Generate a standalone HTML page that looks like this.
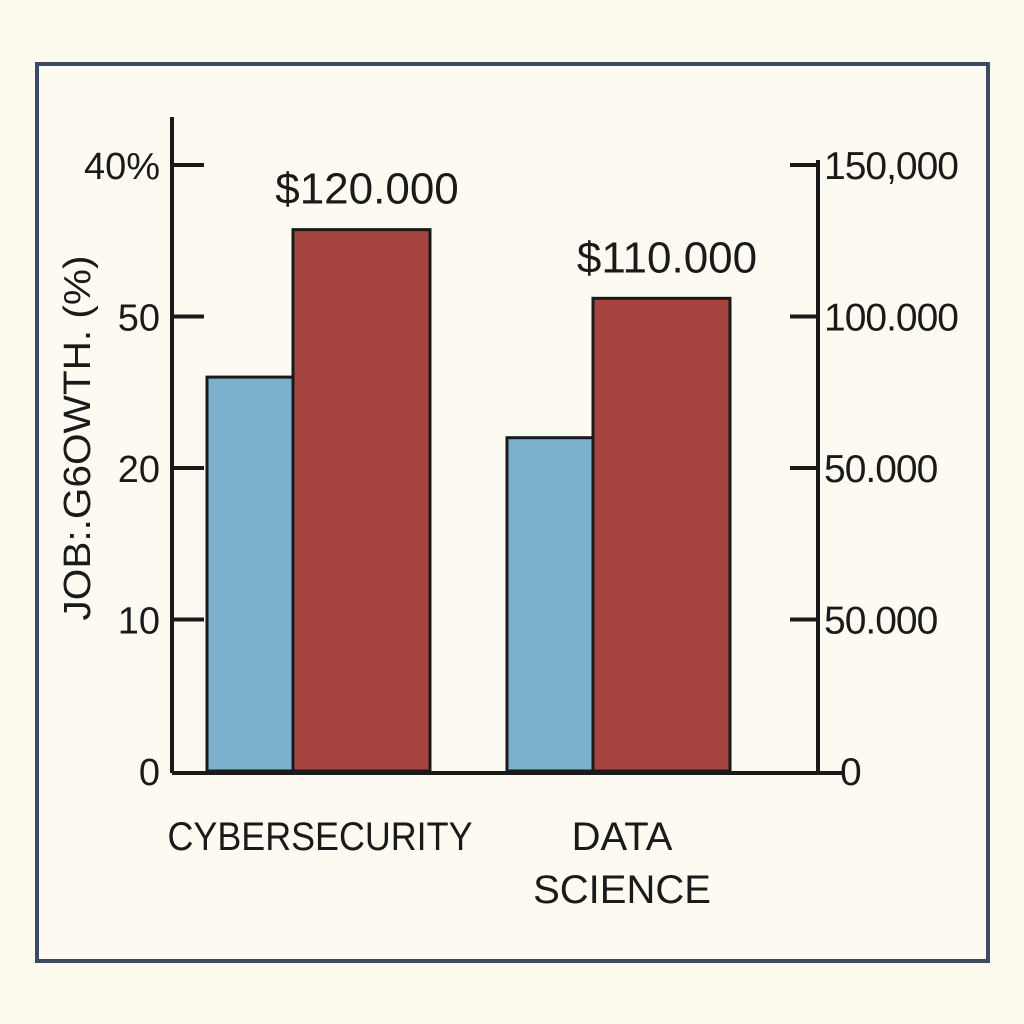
<!DOCTYPE html>
<html><head><meta charset="utf-8"><style>
html,body{margin:0;padding:0;background:#fcf9ee;}
svg{display:block;font-family:"Liberation Sans","DejaVu Sans",sans-serif;}
</style></head><body>
<svg id="chart" width="1024" height="1024" viewBox="0 0 1024 1024">
<rect x="37" y="64" width="951" height="897" fill="#fdfbf1" stroke="#3c4a63" stroke-width="4"/>
<g id="marks"></g>
</svg>
<script>
const categories = ["CYBERSECURITY", "DATA SCIENCE"];
const growth = [26, 22];
const salary = [134000, 117000];
const salaryLabels = ["$120.000", "$110.000"];
const leftTickLabels = ["0", "10", "20", "50", "40%"];
const rightTickLabels = ["0", "50.000", "50.000", "100.000", "150,000"];

const NS = "http://www.w3.org/2000/svg";
const g = document.getElementById("marks");
const y0 = 771, yTop = 165;
const yL = v => y0 - v / 40 * (y0 - yTop);
const yR = v => y0 - v / 150000 * (y0 - yTop);
const tickY = i => y0 - i * (y0 - yTop) / 4;
function mk(tag, attrs, text) {
  const e = document.createElementNS(NS, tag);
  for (const k in attrs) e.setAttribute(k, attrs[k]);
  if (text !== undefined) e.textContent = text;
  g.appendChild(e);
  return e;
}
const groupX = [207, 507];
categories.forEach((c, i) => {
  const bx = groupX[i];
  const b = mk("rect", {x: bx, y: yL(growth[i]), width: 86, height: y0 - yL(growth[i]), fill: "#7bb1cc", stroke: "#1a1a1a", "stroke-width": 3});
  
  
  const r = mk("rect", {x: bx + 86, y: yR(salary[i]), width: 137, height: y0 - yR(salary[i]), fill: "#a64540", stroke: "#1a1a1a", "stroke-width": 3});
  
  
  const t = mk("text", {x: bx + 160, y: yR(salary[i]) - 26, "font-size": 44, "text-anchor": "middle", fill: "#1a1a1a"}, salaryLabels[i]);
  
  
});
const la = mk("line", {x1: 172, y1: 117, x2: 172, y2: y0 + 2, stroke: "#1a1a1a", "stroke-width": 4});


const ra = mk("line", {x1: 818, y1: 160, x2: 818, y2: y0 + 2, stroke: "#1a1a1a", "stroke-width": 4});


const ba = mk("line", {x1: 172, y1: y0 + 2, x2: 845, y2: y0 + 2, stroke: "#1a1a1a", "stroke-width": 4});


leftTickLabels.forEach((l, i) => {
  const y = tickY(i);
  if (i > 0) {
    const tk = mk("line", {x1: 172, y1: y, x2: 204, y2: y, stroke: "#1a1a1a", "stroke-width": 4});
    
    
  }
  const t = mk("text", {x: 160, y: y + 14, "font-size": 38, "text-anchor": "end", fill: "#1a1a1a"}, l);
  
  
});
rightTickLabels.forEach((l, i) => {
  const y = tickY(i);
  if (i > 0) {
    const tk = mk("line", {x1: 790, y1: y, x2: 818, y2: y, stroke: "#1a1a1a", "stroke-width": 4});
    
    
  }
  const t = mk("text", {x: i === 0 ? 840 : 824, y: y + 14, "font-size": 39, fill: "#1a1a1a", "letter-spacing": -1}, l);
  
  
});
const c1 = mk("text", {x: 320, y: 850, "font-size": 40, "text-anchor": "middle", fill: "#1a1a1a", textLength: 305, lengthAdjust: "spacingAndGlyphs"}, categories[0]);


const words = categories[1].split(" ");
words.forEach((w, k) => {
  const t = mk("text", {x: 622, y: 850 + k * 53, "font-size": 40, "text-anchor": "middle", fill: "#1a1a1a"}, w);
  
  
});
const yt = mk("text", {x: 0, y: 0, "font-size": 38, "text-anchor": "middle", fill: "#1a1a1a", transform: "translate(90,438) rotate(-90)", textLength: 365, lengthAdjust: "spacingAndGlyphs"}, "JOB:.G6OWTH. (%)");


</script>
</body></html>
